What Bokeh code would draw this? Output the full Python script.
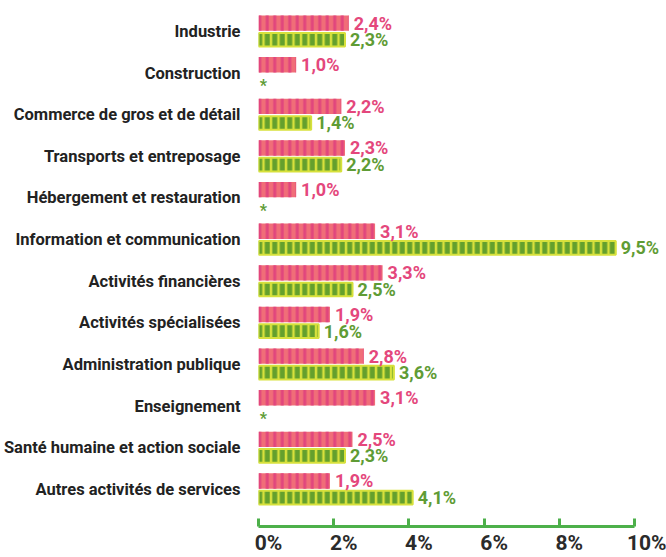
from bokeh.plotting import figure
from bokeh.models import ColumnDataSource, Range1d, FixedTicker, LinearAxis
from bokeh.core.properties import value
from bokeh.embed import file_html
from bokeh.resources import INLINE

categories = ["Industrie", "Construction", "Commerce de gros et de détail",
              "Transports et entreposage", "Hébergement et restauration",
              "Information et communication", "Activités financières",
              "Activités spécialisées", "Administration publique",
              "Enseignement", "Santé humaine et action sociale",
              "Autres activités de services"]
pink_values = [2.4, 1.0, 2.2, 2.3, 1.0, 3.1, 3.3, 1.9, 2.8, 3.1, 2.5, 1.9]
green_values = [2.3, None, 1.4, 2.2, None, 9.5, 2.5, 1.6, 3.6, None, 2.3, 4.1]
x_ticks = [0, 2, 4, 6, 8, 10]
x_tick_labels = ["0%", "2%", "4%", "6%", "8%", "10%"]

PINK_BASE = "#F06E78"
PINK_STRIPE = "#E1467D"
GREEN_BASE = "#64A02D"
YELLOW = "#D7E13C"
PINK_TEXT = "#E4477C"
GREEN_TEXT = "#5F9C35"
AXIS_GREEN = "#4DB04A"
FONT = "Roboto"

def fmt(v):
    return ("%.1f" % v).replace(".", ",") + "%"

n = len(categories)
idx = list(range(n))
OFF = 0.2
H = 0.37
PX = 37.7  # px per unit x (approx)

pink_src = ColumnDataSource(dict(
    y=[i - OFF for i in idx], right=pink_values,
    lx=[v + 5 / PX for v in pink_values],
    label=[fmt(v) for v in pink_values]))

gi = [i for i in idx if green_values[i] is not None]
gv = [green_values[i] for i in gi]
green_src = ColumnDataSource(dict(
    y=[i + OFF for i in gi], right=gv,
    lx=[v + 5 / PX for v in gv],
    label=[fmt(v) for v in gv]))

mi = [i for i in idx if green_values[i] is None]
miss_src = ColumnDataSource(dict(y=[i + OFF + 0.1 for i in mi], x=[0.03] * len(mi), t=["*"] * len(mi)))

p = figure(width=666, height=557, output_backend="svg", toolbar_location=None,
           x_range=Range1d(0, 409 / PX), y_range=Range1d(11.894, -0.743),
           min_border_left=257, min_border_right=0, min_border_top=0,
           min_border_bottom=30, x_axis_location=None, y_axis_location=None)
p.outline_line_color = None
p.xgrid.visible = False
p.ygrid.visible = False
p.background_fill_color = "white"
p.border_fill_color = "white"

p.hbar(y="y", left=0, right="right", height=H, source=pink_src,
       fill_color=PINK_BASE, line_color=None,
       hatch_pattern="vertical_line", hatch_color=PINK_STRIPE,
       hatch_scale=7.5, hatch_weight=3)
p.hbar(y="y", left=0, right="right", height=H - 0.04, source=green_src,
       fill_color=YELLOW, line_color=YELLOW, line_width=2,
       hatch_pattern="vertical_line", hatch_color=GREEN_BASE,
       hatch_scale=7.5, hatch_weight=5)

p.text(x="lx", y="y", text="label", source=pink_src, text_color=PINK_TEXT,
       text_font=value(FONT), text_font_size="18px", text_baseline="middle",
       text_align="left", text_font_style="bold")
p.text(x="lx", y="y", text="label", source=green_src, text_color=GREEN_TEXT,
       text_font=value(FONT), text_font_size="18px", text_baseline="middle",
       text_align="left", text_font_style="bold")
p.text(x="x", y="y", text="t", source=miss_src, text_color=GREEN_TEXT,
       text_font=value(FONT), text_font_size="16px", text_baseline="middle",
       text_align="left", text_font_style="bold")

# axis line + ticks (no labels)
xaxis = LinearAxis(ticker=FixedTicker(ticks=x_ticks), bounds=(0, 10),
                   major_label_overrides={t: "" for t in x_ticks})
xaxis.axis_line_color = AXIS_GREEN
xaxis.axis_line_width = 3
xaxis.major_tick_line_color = AXIS_GREEN
xaxis.major_tick_line_width = 3
xaxis.major_tick_in = 8
xaxis.major_tick_out = 0
xaxis.minor_tick_line_color = None
xaxis.major_label_standoff = 0
xaxis.axis_label_standoff = 0
xaxis.major_label_text_font_size = "1px"
p.add_layout(xaxis, "below")

# tick labels, set just right of each tick
label_pos = [t + (len(l) * 13 / 2 - 3) / PX for t, l in zip(x_ticks, x_tick_labels)]
xlab = LinearAxis(ticker=FixedTicker(ticks=label_pos),
                  major_label_overrides={t: l for t, l in zip(label_pos, x_tick_labels)})
xlab.axis_line_color = None
xlab.major_tick_line_color = None
xlab.minor_tick_line_color = None
xlab.major_tick_in = 0
xlab.major_tick_out = 0
xlab.major_label_text_font = FONT
xlab.major_label_text_font_style = "bold"
xlab.major_label_text_font_size = "21px"
xlab.major_label_text_color = "#2b2b2b"
xlab.major_label_standoff = 4
xlab.axis_label_standoff = 0
p.add_layout(xlab, "below")

yaxis = LinearAxis(ticker=FixedTicker(ticks=idx),
                   major_label_overrides={i: c for i, c in enumerate(categories)})
yaxis.axis_line_color = None
yaxis.major_tick_line_color = None
yaxis.minor_tick_line_color = None
yaxis.major_label_standoff = 12
yaxis.major_label_text_font = FONT
yaxis.major_label_text_font_style = "bold"
yaxis.major_label_text_font_size = "16.5px"
yaxis.major_label_text_color = "#222222"
p.add_layout(yaxis, "left")

open("out.html", "w").write(file_html(p, INLINE))
